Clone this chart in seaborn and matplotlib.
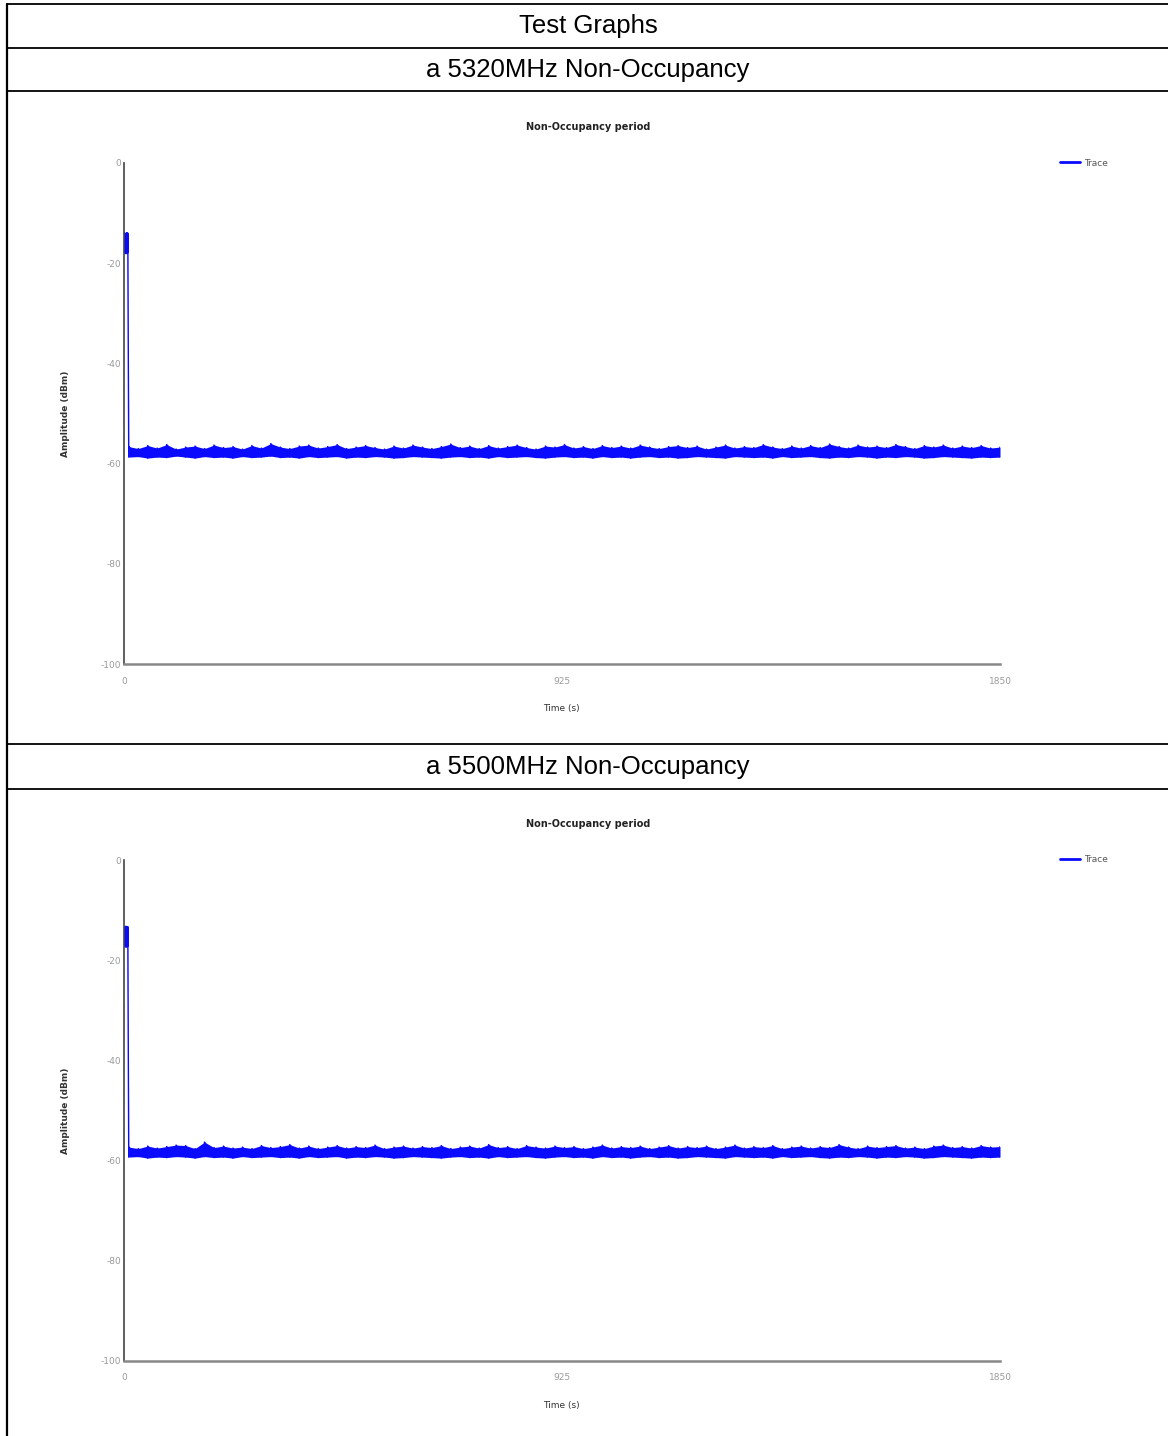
import numpy as np
import pandas as pd
import matplotlib.pyplot as plt
from matplotlib.lines import Line2D
import seaborn as sns

sns.set_style("white")
plt.rcParams['font.family'] = ['DejaVu Sans']
plt.rcParams['axes.unicode_minus'] = False

# headings of the report table
table_title = "Test Graphs"
chart_headings = ["a 5320MHz Non-Occupancy", "a 5500MHz Non-Occupancy"]
plot_title = "Non-Occupancy period"

# tick values
y_ticks = [0, -20, -40, -60, -80, -100]
x_ticks = [0, 925, 1850]

# sample times (s): short burst at the start, then the quiet channel
start_t = [0, 2, 4, 6, 8]
band_t = [10, 30, 50, 70, 90, 110, 130, 150, 170, 190,
          210, 230, 250, 270, 290, 310, 330, 350, 370, 390,
          410, 430, 450, 470, 490, 510, 530, 550, 570, 590,
          610, 630, 650, 670, 690, 710, 730, 750, 770, 790,
          810, 830, 850, 870, 890, 910, 930, 950, 970, 990,
          1010, 1030, 1050, 1070, 1090, 1110, 1130, 1150, 1170, 1190,
          1210, 1230, 1250, 1270, 1290, 1310, 1330, 1350, 1370, 1390,
          1410, 1430, 1450, 1470, 1490, 1510, 1530, 1550, 1570, 1590,
          1610, 1630, 1650, 1670, 1690, 1710, 1730, 1750, 1770, 1790,
          1810, 1830, 1850]

# 5320 MHz trace, peak / minimum per sample (dBm)
start_hi_1 = [-13.9, -14.0, -14.1, -13.9, -14.0]
start_lo_1 = [-18.0, -17.9, -18.1, -18.0, -17.9]
hi_1 = [-56.6, -57.0, -56.4, -56.9, -56.2, -57.1, -56.7, -56.5, -57.0, -56.3,
        -56.8, -56.6, -57.1, -56.4, -56.9, -56.0, -56.7, -57.0, -56.5, -56.3,
        -56.9, -56.6, -56.2, -57.0, -56.7, -56.4, -56.8, -57.1, -56.5, -56.9,
        -56.3, -56.7, -57.0, -56.6, -56.1, -56.8, -56.5, -57.0, -56.4, -56.9,
        -56.6, -56.3, -56.8, -57.1, -56.5, -56.7, -56.2, -56.9, -56.6, -57.0,
        -56.4, -56.8, -56.5, -56.9, -56.3, -56.7, -57.0, -56.6, -56.4, -56.8,
        -56.5, -57.1, -56.7, -56.3, -56.9, -56.6, -56.8, -56.2, -56.7, -57.0,
        -56.5, -56.9, -56.4, -56.8, -56.1, -56.6, -56.9, -56.3, -56.7, -56.5,
        -56.8, -56.2, -56.6, -57.0, -56.4, -56.7, -56.3, -56.9, -56.5, -56.8,
        -56.4, -56.9, -56.7]
lo_1 = [-58.7, -58.6, -58.9, -58.7, -58.8, -58.5, -58.7, -58.9, -58.6, -58.8,
        -58.7, -58.9, -58.6, -58.8, -58.7, -58.5, -58.8, -58.7, -58.9, -58.6,
        -58.8, -58.7, -58.6, -58.9, -58.7, -58.8, -58.6, -58.7, -58.9, -58.8,
        -58.6, -58.7, -58.8, -58.9, -58.7, -58.6, -58.8, -58.7, -58.9, -58.6,
        -58.8, -58.7, -58.6, -58.8, -58.9, -58.7, -58.6, -58.8, -58.7, -58.9,
        -58.6, -58.8, -58.7, -58.9, -58.7, -58.6, -58.8, -58.7, -58.9, -58.8,
        -58.6, -58.7, -58.8, -58.9, -58.6, -58.7, -58.8, -58.7, -58.9, -58.6,
        -58.8, -58.7, -58.6, -58.8, -58.9, -58.7, -58.8, -58.6, -58.7, -58.9,
        -58.7, -58.8, -58.6, -58.7, -58.9, -58.8, -58.6, -58.7, -58.8, -58.9,
        -58.7, -58.8, -58.7]

# 5500 MHz trace, peak / minimum per sample (dBm)
start_hi_2 = [-13.3, -13.4, -13.2, -13.4, -13.3]
start_lo_2 = [-17.3, -17.2, -17.4, -17.3, -17.2]
hi_2 = [-57.3, -57.6, -57.1, -57.5, -57.2, -56.9, -57.0, -57.6, -56.3, -57.4,
        -57.1, -57.5, -57.3, -57.6, -57.0, -57.4, -57.2, -56.8, -57.5, -57.1,
        -57.6, -57.3, -57.0, -57.5, -57.2, -57.4, -56.9, -57.6, -57.3, -57.1,
        -57.5, -57.2, -57.4, -57.0, -57.6, -57.3, -57.1, -57.5, -56.8, -57.4,
        -57.2, -57.6, -57.0, -57.3, -57.5, -57.1, -57.4, -57.2, -57.6, -57.3,
        -56.9, -57.5, -57.2, -57.4, -57.1, -57.6, -57.3, -57.0, -57.5, -57.2,
        -57.4, -57.1, -57.6, -57.3, -56.9, -57.5, -57.2, -57.4, -57.0, -57.6,
        -57.3, -57.1, -57.5, -57.2, -57.4, -56.8, -57.3, -57.6, -57.1, -57.4,
        -57.2, -57.0, -57.5, -57.3, -57.6, -57.1, -56.9, -57.4, -57.2, -57.5,
        -57.0, -57.3, -57.2]
lo_2 = [-59.3, -59.2, -59.5, -59.3, -59.4, -59.2, -59.3, -59.5, -59.2, -59.4,
        -59.3, -59.5, -59.2, -59.4, -59.3, -59.2, -59.4, -59.3, -59.5, -59.2,
        -59.4, -59.3, -59.2, -59.5, -59.3, -59.4, -59.2, -59.3, -59.5, -59.4,
        -59.2, -59.3, -59.4, -59.5, -59.3, -59.2, -59.4, -59.3, -59.5, -59.2,
        -59.4, -59.3, -59.2, -59.4, -59.5, -59.3, -59.2, -59.4, -59.3, -59.5,
        -59.2, -59.4, -59.3, -59.5, -59.3, -59.2, -59.4, -59.3, -59.5, -59.4,
        -59.2, -59.3, -59.4, -59.5, -59.2, -59.3, -59.4, -59.3, -59.5, -59.2,
        -59.4, -59.3, -59.2, -59.4, -59.5, -59.3, -59.4, -59.2, -59.3, -59.5,
        -59.3, -59.4, -59.2, -59.3, -59.5, -59.4, -59.2, -59.3, -59.4, -59.5,
        -59.3, -59.4, -59.3]

traces = [(start_hi_1 + hi_1, start_lo_1 + lo_1),
          (start_hi_2 + hi_2, start_lo_2 + lo_2)]
times = start_t + band_t

W, H = 1168, 1436
fig = plt.figure(figsize=(W / 100, H / 100), dpi=100)

# table borders (figure pixel coords converted to fractions)
def hline(y):
    fig.add_artist(Line2D([6.5 / W, 1.0], [1 - y / H, 1 - y / H], color='black', lw=1.3))

for y in [3.5, 47.5, 91, 744, 788.5]:
    hline(y)
fig.add_artist(Line2D([6.5 / W, 6.5 / W], [1 - 3.5 / H, 0], color='black', lw=1.6))

header_font = dict(family='Liberation Sans', fontsize=18.5, ha='center', va='center',
                   color='black')
fig.text(588 / W, 1 - 26 / H, table_title, **header_font)
fig.text(588 / W, 1 - 70 / H, chart_headings[0], **header_font)
fig.text(588 / W, 1 - 767 / H, chart_headings[1], **header_font)

tick_grey = '#9a9a9a'
for (hi, lo), top in zip(traces, [163, 860]):
    ax = fig.add_axes([124 / W, 1 - (top + 501) / H, 876 / W, 501 / H])
    df = pd.DataFrame({'Time (s)': times + times, 'Amplitude (dBm)': hi + lo})
    ax.fill_between(times, lo, hi, color='#0a0aff', lw=0)
    sns.lineplot(data=df, x='Time (s)', y='Amplitude (dBm)', estimator=None,
                 sort=True, color='#0a0aff', lw=1.0, ax=ax, legend=False)
    ax.set_xlim(0, 1850)
    ax.set_ylim(-100, 0)
    ax.set_xticks(x_ticks)
    ax.set_yticks(y_ticks)
    ax.tick_params(axis='both', length=0, labelsize=6.5, labelcolor=tick_grey)
    ax.tick_params(axis='x', pad=9)
    ax.tick_params(axis='y', pad=2)
    for s in ['top', 'right']:
        ax.spines[s].set_visible(False)
    ax.spines['left'].set_color('#444444')
    ax.spines['left'].set_linewidth(1.2)
    ax.spines['bottom'].set_color('#888888')
    ax.spines['bottom'].set_linewidth(1.8)
    ax.set_xlabel('Time (s)', fontsize=6.5, color='#333333')
    ax.set_ylabel('Amplitude (dBm)', fontsize=6.5, color='#333333', fontweight='bold')
    ax.xaxis.set_label_coords(437 / 876, -40 / 501)
    ax.yaxis.set_label_coords(-54 / 876, 0.5)
    ax.text(464 / 876, 1 + 36 / 501, plot_title, transform=ax.transAxes,
            ha='center', va='center', fontsize=7, fontweight='bold', color='#222222')
    handle = Line2D([], [], color='#0a0aff', lw=2)
    ax.legend([handle], ['Trace'], loc='center left', bbox_to_anchor=(936 / 876, 1.0),
              frameon=False, fontsize=6.5, labelcolor='#555555', borderpad=0,
              borderaxespad=0, handlelength=2.2, handletextpad=0.5)

fig.savefig('out.png', dpi=100)
